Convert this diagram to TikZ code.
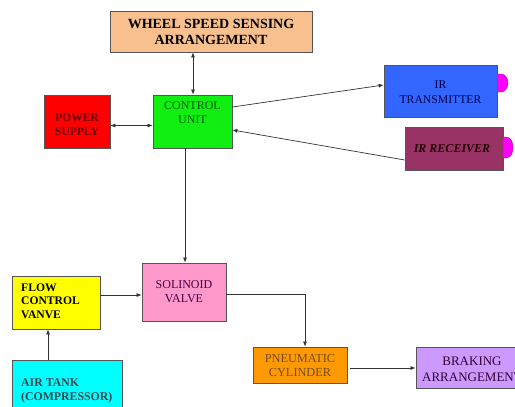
\documentclass[tikz,border=0pt]{standalone}
\usepackage{fontspec}
\setmainfont{Liberation Serif}
\usetikzlibrary{arrows.meta,calc}
\definecolor{peach}{HTML}{F9C08F}
\definecolor{brdr}{HTML}{555555}
\definecolor{grn}{HTML}{11EE11}
\definecolor{blu}{HTML}{3366FF}
\definecolor{maroon}{HTML}{993366}
\definecolor{pinkb}{HTML}{FF99CC}
\definecolor{orng}{HTML}{FF9900}
\definecolor{lav}{HTML}{CC99FF}
\definecolor{bump}{HTML}{FF00FF}
\definecolor{cyanb}{HTML}{00FFFF}
\definecolor{yel}{HTML}{FFFF00}
\begin{document}
\begin{tikzpicture}[x=1pt,y=-1pt,
  blk/.style={draw=brdr,line width=0.8pt,inner sep=0pt},
  lbl/.style={align=center,font=\fontsize{12}{14}\selectfont},
  con/.style={draw=black!80,line width=0.7pt},
  tip/.style={-{Latex[length=5pt,width=4pt]}},
  tips/.style={{Latex[length=5pt,width=4pt]}-{Latex[length=5pt,width=4pt]}}]
\useasboundingbox (0,0) rectangle (515,407);
\clip (0,0) rectangle (515,407);
% boxes
\node[blk,fill=peach,minimum width=202pt,minimum height=41pt] (wheel) at (211,31.5) {};
\node[lbl,font=\bfseries\fontsize{14}{16}\selectfont] (wheelt) at (211,32) {WHEEL SPEED SENSING\\ARRANGEMENT};
\node[blk,fill=red,minimum width=66pt,minimum height=53pt] (pow) at (77,121.5) {};
\node[lbl,font=\bfseries\fontsize{11.5}{14}\selectfont,text=red!40!black] (powt) at (77,125) {POWER\\SUPPLY};
\node[blk,fill=grn,minimum width=79pt,minimum height=53pt] (ctrl) at (192.5,121.5) {};
\node[lbl,text=green!35!black] (ctrlt) at (192.5,113) {CONTROL\\UNIT};
\node[blk,fill=blu,minimum width=113pt,minimum height=52pt] (tx) at (440.5,91) {};
\node[lbl,font=\fontsize{11.7}{15}\selectfont,text=blue!30!black] (txt) at (440.5,92) {IR\\TRANSMITTER};
\node[blk,fill=maroon,minimum width=98pt,minimum height=43pt] (rx) at (454,148.5) {};
\node[lbl,font=\bfseries\itshape\fontsize{12}{14}\selectfont,text=black!85!red] (rxt) at (452,148.5) {IR RECEIVER};
\node[blk,fill=pinkb,minimum width=84pt,minimum height=58pt] (sol) at (184,292) {};
\node[lbl,text=violet!50!black] (solt) at (184,292) {SOLINOID\\VALVE};
\node[blk,fill=yel,minimum width=88pt,minimum height=53pt] (flow) at (56,302.5) {};
\node[align=left,anchor=west,inner sep=0pt,font=\bfseries\fontsize{11.6}{13.5}\selectfont] (flowt) at (21,301) {FLOW\\CONTROL\\VANVE};
\node[blk,fill=cyanb,minimum width=110pt,minimum height=52pt] (air) at (67,386) {};
\node[align=left,anchor=west,inner sep=0pt,font=\bfseries\fontsize{11.8}{14}\selectfont,text=cyan!20!black] (airt) at (21,391) {AIR TANK\\(COMPRESSOR)};
\node[blk,fill=orng,minimum width=94pt,minimum height=36pt] (pneu) at (300,365) {};
\node[lbl,font=\fontsize{12.3}{14}\selectfont,text=brown!60!black] (pneut) at (300,365) {PNEUMATIC\\CYLINDER};
\node[blk,fill=lav,minimum width=112pt,minimum height=41pt] (brk) at (472,367.5) {};
\node[lbl,font=\fontsize{13}{16}\selectfont,text=violet!40!black] (brkt) at (472,369) {BRAKING\\ARRANGEMENT};
% bumps
\filldraw[fill=bump,draw=bump!70!black,line width=0.4pt] (tx.east |- 0,74) -- (501,74) to[out=0,in=90] (508,83) to[out=-90,in=0] (501,92) -- (tx.east |- 0,92);
\filldraw[fill=bump,draw=bump!70!black,line width=0.4pt] (rx.east |- 0,137) -- (506,137) to[out=0,in=90] (513,147.5) to[out=-90,in=0] (506,158) -- (rx.east |- 0,158);
% connectors
\draw[con,tips] ([xshift=0.5pt]ctrl.north) -- ([xshift=0.5pt]ctrl.north |- wheel.south);
\draw[con,tips] ([yshift=-4pt]pow.east) -- ([yshift=-4pt]pow.east -| ctrl.west);
\draw[con,tip] ([yshift=14.5pt]ctrl.east) -- ([yshift=6pt]tx.west);
\draw[con,tip] ([yshift=-11.5pt]rx.west) -- ([yshift=-8.5pt]ctrl.east);
\draw[con,tip] ([xshift=1pt]sol.north |- ctrl.south) -- ([xshift=1pt]sol.north);
\draw[con,tip] ([yshift=7.5pt]flow.east) -- ([yshift=7.5pt]flow.east -| sol.west);
\draw[con,tip] ([xshift=-8pt]flow.south |- air.north) -- ([xshift=-8pt]flow.south);
\draw[con,tip] ([yshift=-2pt]sol.east) -| ([xshift=5pt]pneu.north);
\draw[con,tip] ([xshift=3pt,yshift=-3pt]pneu.east) -- ([yshift=-3pt]pneu.east -| brk.west);
\end{tikzpicture}
\end{document}
